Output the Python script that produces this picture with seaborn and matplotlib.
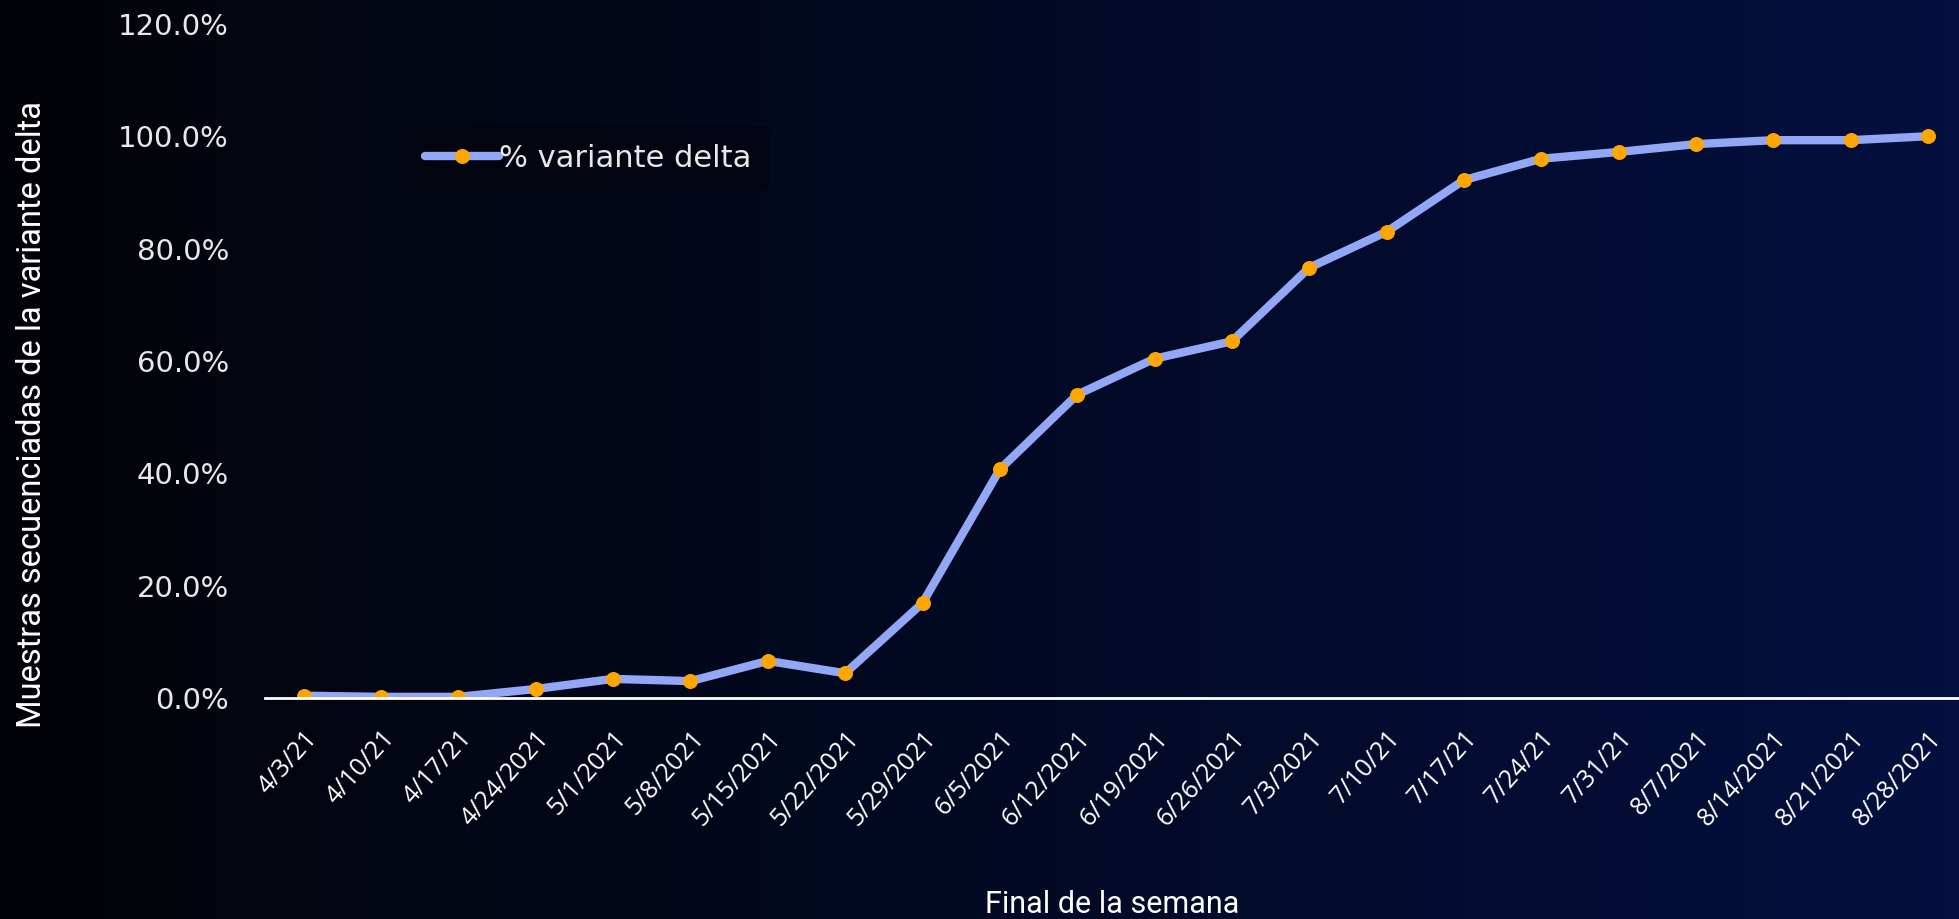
import numpy as np
import pandas as pd
import matplotlib
matplotlib.use("Agg")
import matplotlib.pyplot as plt
from matplotlib.ticker import PercentFormatter
from matplotlib.colors import LinearSegmentedColormap
import seaborn as sns

# week-ending dates (labels kept as written in the source chart)
semanas = ["4/3/21", "4/10/21", "4/17/21", "4/24/2021", "5/1/2021", "5/8/2021",
           "5/15/2021", "5/22/2021", "5/29/2021", "6/5/2021", "6/12/2021",
           "6/19/2021", "6/26/2021", "7/3/2021", "7/10/21", "7/17/21", "7/24/21",
           "7/31/21", "8/7/2021", "8/14/2021", "8/21/2021", "8/28/2021"]
# share of sequenced samples that were delta
pct_delta = [0.004, 0.002, 0.002, 0.016, 0.034, 0.030, 0.066, 0.044, 0.169,
             0.407, 0.540, 0.604, 0.635, 0.766, 0.830, 0.922, 0.960, 0.972,
             0.986, 0.993, 0.993, 1.000]

df = pd.DataFrame({"semana": semanas, "pct": pct_delta})

sns.set_style("white")
plt.rcParams["font.family"] = ["DejaVu Sans"]

fig = plt.figure(figsize=(19.59, 9.19), dpi=100)

# background gradient: near black on the left to dark navy on the right
bg = fig.add_axes([0, 0, 1, 1], zorder=0)
cmap = LinearSegmentedColormap.from_list("bg", ["#020308", "#04103f"])
bg.imshow(np.linspace(0, 1, 256).reshape(1, -1), cmap=cmap, aspect="auto",
          extent=[0, 1, 0, 1])
bg.axis("off")

ax = fig.add_axes([0.1353, 0.2405, 0.8647, 0.7335], zorder=1)
ax.patch.set_alpha(0)

sns.lineplot(data=df, x="semana", y="pct", ax=ax, sort=False,
             color="#93a7f7", linewidth=6, marker="o", markersize=10,
             markerfacecolor="#ffa500", markeredgecolor="#ffa500",
             label="% variante delta")

ax.set_ylim(0, 1.2)
ax.set_xlim(-0.5, 21.4)
ax.set_yticks(np.arange(0, 1.21, 0.2))
ax.yaxis.set_major_formatter(PercentFormatter(1.0, decimals=1))

for s in ["top", "right", "left"]:
    ax.spines[s].set_visible(False)
ax.spines["bottom"].set_color("white")
ax.spines["bottom"].set_linewidth(2)
ax.grid(False)

ax.tick_params(axis="y", length=0, pad=26, labelsize=21, labelcolor="#e8e8e8")
ax.tick_params(axis="x", length=0, pad=20, labelsize=18, labelcolor="white")
plt.setp(ax.get_xticklabels(), rotation=48, ha="right", rotation_mode="anchor",
         family=["Open Sans", "DejaVu Sans"])

narrow = ["Roboto", "DejaVu Sans"]
ax.set_xlabel("Final de la semana", fontsize=22, color="white", family=narrow,
              labelpad=0)
ax.xaxis.set_label_coords(0.5, -0.285)
ax.set_ylabel("Muestras secuenciadas de la variante delta", fontsize=23.5,
              color="white", family=narrow)
ax.yaxis.set_label_coords(-0.128, 0.42)

leg = ax.legend(loc="upper left", bbox_to_anchor=(0.2, 0.88),
                bbox_transform=fig.transFigure, frameon=True, fontsize=22,
                handlelength=2.4, handletextpad=0.0, borderpad=0.6)
leg.get_frame().set_facecolor("#02040f")
leg.get_frame().set_edgecolor("none")
leg.get_frame().set_alpha(0.8)
for t in leg.get_texts():
    t.set_color("#e8e8e8")

fig.savefig("out.png", dpi=100)
